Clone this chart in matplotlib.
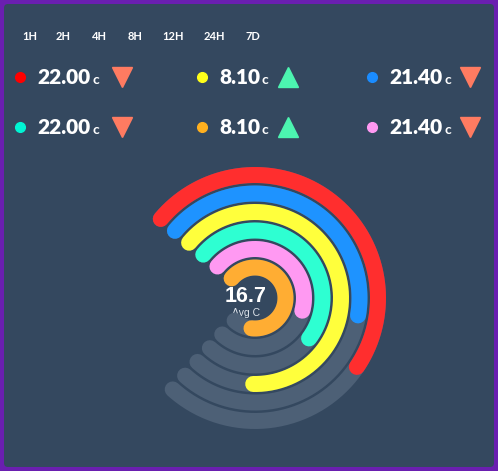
import numpy as np
import matplotlib
matplotlib.use("Agg")
import matplotlib.pyplot as plt
from matplotlib.patches import FancyBboxPatch

periods = ["1H", "2H", "4H", "8H", "12H", "24H", "7D"]
ring_names = ["red", "blue", "yellow", "teal", "pink", "orange"]
ring_values = [64, 55, 85, 65, 57, 87]  # percent of gauge sweep
ring_colors = ["#ff2e2e", "#1e93ff", "#ffff3c", "#2effd2", "#ff99f2", "#ffad33"]
legend_values = ["22.00", "8.10", "21.40", "22.00", "8.10", "21.40"]
legend_colors = ["#ff0000", "#ffff1a", "#1a8cff", "#00f5d4", "#ffb01f", "#ff99f2"]
legend_trend = ["down", "up", "down", "down", "up", "down"]
avg_value = "16.7"

W, H = 498, 471
fig = plt.figure(figsize=(W/100, H/100), dpi=100)
fig.patch.set_facecolor("#6a1fb0")
bg = fig.add_axes([0, 0, 1, 1])
bg.set_xlim(0, W); bg.set_ylim(H, 0); bg.axis("off")
bg.add_patch(FancyBboxPatch((4, 4), W-8, H-8, boxstyle="round,pad=0,rounding_size=4",
                            fc="#34485f", ec="none"))

FONT = "Lato"
xs = [30, 63, 99, 135, 173, 214, 253]
for x, p in zip(xs, periods):
    bg.text(x, 37, p, color="white", fontsize=8, fontweight="bold", family=FONT,
            ha="center", va="center")

cols = [(20, 37, 122), (202, 219, 288), (372, 389, 470)]
rows = [77, 127]
fig.canvas.draw()
for i, (v, c, t) in enumerate(zip(legend_values, legend_colors, legend_trend)):
    dx, tx, trx = cols[i % 3]
    y = rows[i // 3]
    bg.plot(dx, y, "o", ms=7, color=c)
    txt = bg.text(tx, y, v, color="white", fontsize=15, fontweight="heavy", family=FONT,
                  ha="left", va="center")
    bb = txt.get_window_extent(renderer=fig.canvas.get_renderer())
    bg.annotate("c", xy=(0, 0), xytext=(bb.x1 + 2, H - (y + 3)), textcoords="figure pixels",
                color="white", fontsize=10, fontweight="bold", family=FONT, ha="left", va="center")
    if t == "down":
        bg.plot(trx, y, "v", ms=14, color="#ff7b61")
    else:
        bg.plot(trx, y, "^", ms=14, color="#4cf5b0")

cx, cy, R = 255, 298, 145
pax = fig.add_axes([(cx-R)/W, (H-cy-R)/H, 2*R/W, 2*R/H], projection="polar")
pax.set_theta_zero_location("N"); pax.set_theta_direction(-1)
pax.set_ylim(0, R); pax.axis("off"); pax.patch.set_alpha(0)
start, sweep = -50.0, 272.0
radii = [123, 104.5, 86, 67.5, 49, 30.5]
lw = 16 * 72 / 100
for r in radii:
    th = np.radians(np.linspace(start, start + sweep, 300))
    pax.plot(th, np.full_like(th, r), color="#4d6076", lw=lw, solid_capstyle="round")
for r, v, c in zip(radii, ring_values, ring_colors):
    th = np.radians(np.linspace(start, start + sweep * v / 100, 300))
    pax.plot(th, np.full_like(th, r), color=c, lw=lw, solid_capstyle="round")

bg.text(cx - 9, 296, avg_value, color="white", fontsize=15.5, fontweight="bold",
        family="Liberation Sans", ha="center", va="center")
bg.text(cx - 9, 313, "Avg C", color="#dde3ea", fontsize=7.5, family="Liberation Sans",
        ha="center", va="center")

fig.savefig("out.png", dpi=100, facecolor=fig.get_facecolor())
